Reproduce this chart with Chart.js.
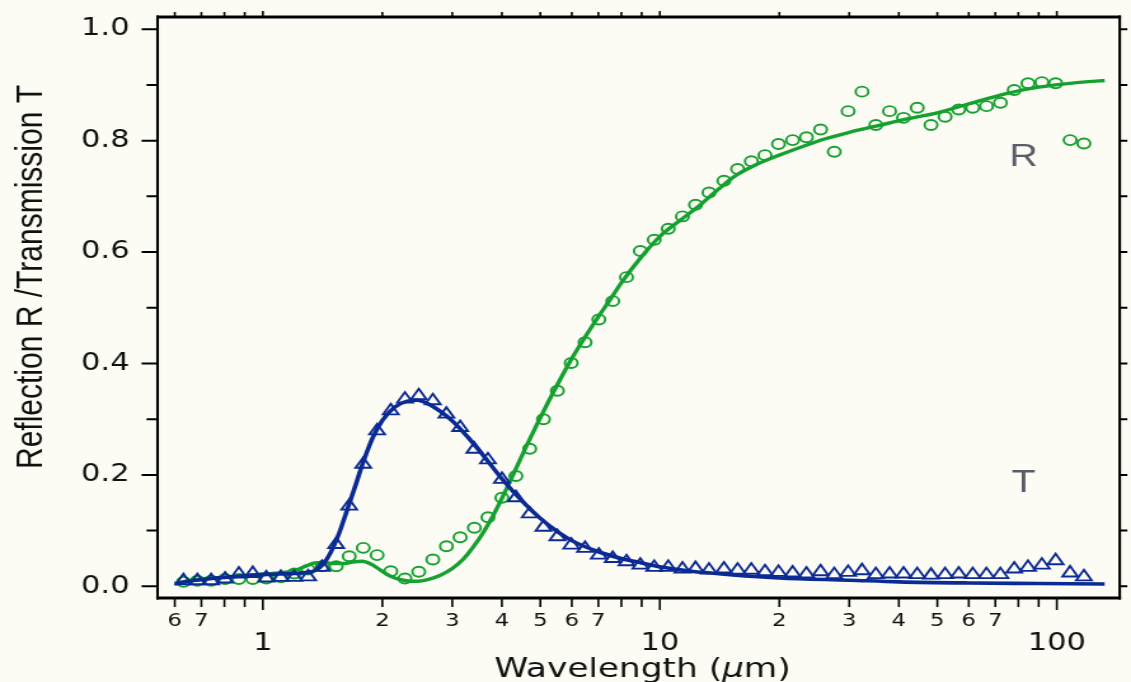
<!DOCTYPE html>
<html>
<head>
<meta charset="utf-8">
<script src="https://cdn.jsdelivr.net/npm/chart.js@4.4.1/dist/chart.umd.min.js"></script>
<style>
    html, body { margin: 0; padding: 0; background: #fcfcf4; overflow: hidden; }
    /* the plot is laid out narrow and widened on screen */
    #wrap { width: 890px; height: 682px; transform: scaleX(1.27079); transform-origin: 0 0; }
    canvas { display: block; }
</style>
</head>
<body>
<div id="wrap"><canvas id="chart" width="890" height="682"></canvas></div>
<script>
// measured points (wavelength in um)
const wavelength = [0.631, 0.684, 0.741, 0.803, 0.870, 0.943, 1.02, 1.11, 1.20, 1.30,
    1.41, 1.53, 1.65, 1.79, 1.94, 2.10, 2.28, 2.47, 2.68, 2.90,
    3.14, 3.41, 3.69, 4.00, 4.34, 4.70, 5.09, 5.52, 5.98, 6.48,
    7.02, 7.61, 8.24, 8.93, 9.68, 10.5, 11.4, 12.3, 13.3, 14.5,
    15.7, 17.0, 18.4, 19.9, 21.6, 23.4, 25.4, 27.5, 29.8, 32.3,
    35.0, 37.9, 41.1, 44.5, 48.2, 52.3, 56.6, 61.4, 66.5, 72.1,
    78.1, 84.6, 91.7, 99.3, 108, 117];
const reflection = [0.008, 0.010, 0.010, 0.013, 0.013, 0.013, 0.014, 0.016, 0.023, 0.030,
    0.036, 0.036, 0.054, 0.069, 0.056, 0.027, 0.014, 0.026, 0.048, 0.072,
    0.088, 0.105, 0.124, 0.159, 0.198, 0.247, 0.300, 0.351, 0.401, 0.438,
    0.479, 0.512, 0.555, 0.602, 0.622, 0.642, 0.664, 0.685, 0.707, 0.728,
    0.749, 0.763, 0.774, 0.794, 0.801, 0.806, 0.820, 0.780, 0.853, 0.888,
    0.828, 0.853, 0.841, 0.859, 0.828, 0.843, 0.856, 0.859, 0.862, 0.868,
    0.891, 0.903, 0.905, 0.903, 0.801, 0.795];
const transmission = [0.010, 0.010, 0.010, 0.013, 0.022, 0.023, 0.015, 0.016, 0.016, 0.017,
    0.034, 0.075, 0.144, 0.219, 0.279, 0.315, 0.336, 0.342, 0.333, 0.309,
    0.285, 0.246, 0.227, 0.192, 0.159, 0.130, 0.106, 0.089, 0.074, 0.068,
    0.056, 0.050, 0.044, 0.038, 0.034, 0.034, 0.031, 0.032, 0.029, 0.031,
    0.029, 0.029, 0.026, 0.025, 0.024, 0.022, 0.026, 0.021, 0.025, 0.028,
    0.021, 0.022, 0.022, 0.021, 0.020, 0.021, 0.022, 0.021, 0.021, 0.021,
    0.031, 0.034, 0.038, 0.046, 0.024, 0.017];

// model curves
const reflFitX = [0.6, 0.65, 0.7, 0.8, 0.9, 1.0, 1.1, 1.2, 1.28, 1.35, 1.42, 1.5, 1.6, 1.7, 1.78,
    1.87, 1.95, 2.05, 2.15, 2.3, 2.45, 2.6, 2.8, 3.0, 3.2, 3.4, 3.6, 3.8, 4.0, 4.3,
    4.6, 5.0, 5.5, 6.0, 6.5, 7.0, 7.5, 8.0, 9.0, 10, 11.3, 12.5, 14, 15.5, 17.5,
    20, 23, 26, 30, 35, 42, 50, 60, 75, 90, 105, 120, 132];
const reflFitY = [0.005, 0.010, 0.013, 0.016, 0.019, 0.022, 0.024, 0.028, 0.036, 0.042, 0.043, 0.041, 0.041, 0.044, 0.045,
    0.040, 0.032, 0.022, 0.015, 0.010, 0.009, 0.012, 0.020, 0.032, 0.049, 0.072, 0.098, 0.127, 0.158, 0.205,
    0.250, 0.303, 0.360, 0.409, 0.449, 0.484, 0.515, 0.545, 0.592, 0.628, 0.658, 0.682, 0.712, 0.737, 0.757,
    0.774, 0.790, 0.803, 0.815, 0.826, 0.839, 0.850, 0.866, 0.885, 0.896, 0.902, 0.906, 0.908];
const transFitX = [0.6, 0.65, 0.7, 0.8, 0.9, 1.0, 1.1, 1.2, 1.3, 1.36, 1.42, 1.48, 1.55, 1.62, 1.7,
    1.8, 1.9, 2.0, 2.15, 2.3, 2.45, 2.6, 2.8, 3.0, 3.3, 3.6, 4.0, 4.5, 5.0, 5.5,
    6.0, 7.0, 8.0, 9.0, 10, 12, 15, 20, 30, 40, 60, 90, 132];
const transFitY = [0.004, 0.009, 0.012, 0.016, 0.019, 0.021, 0.022, 0.023, 0.025, 0.029, 0.040, 0.060, 0.092, 0.131, 0.175,
    0.228, 0.270, 0.298, 0.322, 0.332, 0.334, 0.328, 0.314, 0.297, 0.266, 0.234, 0.193, 0.153, 0.122, 0.099,
    0.082, 0.062, 0.050, 0.042, 0.035, 0.027, 0.021, 0.015, 0.011, 0.008, 0.006, 0.005, 0.004];

// ticks
const xMajor = [1, 10, 100];
const xMinor = [0.6, 0.7, 0.8, 0.9, 2, 3, 4, 5, 6, 7, 8, 9, 20, 30, 40, 50, 60, 70, 80, 90];
const yMajor = [0, 0.2, 0.4, 0.6, 0.8, 1.0];
const yMinor = [0.1, 0.3, 0.5, 0.7, 0.9];

const curveLabels = [
    { text: 'R', at: 82.5, level: 0.755 },
    { text: 'T', at: 82.5, level: 0.170 }
];

const GREEN = '#15a02f';
const BLUE = '#0c2a94';

const pairs = (xs, ys) => xs.map((v, i) => ({ x: v, y: ys[i] }));

function xTickText(v) {
    if (xMajor.includes(v)) return ['', String(v)];
    const lead = Math.round(v / Math.pow(10, Math.floor(Math.log10(v) + 1e-9)));
    return lead <= 7 ? String(lead) : '';
}

// frame, tick marks, titles and curve tags
const axisDecor = {
    id: 'axisDecor',
    afterDraw(chart) {
        const { ctx, chartArea: a, scales: { x, y } } = chart;
        ctx.save();
        ctx.strokeStyle = '#000';

        ctx.lineWidth = 1.6;
        ctx.beginPath();
        xMajor.concat(xMinor).forEach(v => {
            const px = x.getPixelForValue(v);
            const big = xMajor.includes(v);
            ctx.moveTo(px, a.bottom); ctx.lineTo(px, a.bottom + (big ? 12 : 9));
            ctx.moveTo(px, a.top); ctx.lineTo(px, a.top - (big ? 6 : 5));
        });
        ctx.stroke();

        ctx.lineWidth = 2;
        ctx.beginPath();
        yMajor.concat(yMinor).forEach(v => {
            const py = y.getPixelForValue(v);
            const big = yMajor.includes(v);
            ctx.moveTo(a.left, py); ctx.lineTo(a.left - (big ? 12.6 : 8.7), py);
            ctx.moveTo(a.right, py); ctx.lineTo(a.right + 6, py);
        });
        ctx.stroke();

        ctx.lineWidth = 3;
        ctx.beginPath();
        ctx.moveTo(a.left - 1, a.top); ctx.lineTo(a.right + 1, a.top);
        ctx.moveTo(a.left - 1, a.bottom); ctx.lineTo(a.right + 1, a.bottom);
        ctx.stroke();
        ctx.lineWidth = 2.1;
        ctx.beginPath();
        ctx.moveTo(a.left, a.top - 1.5); ctx.lineTo(a.left, a.bottom + 1.5);
        ctx.moveTo(a.right, a.top - 1.5); ctx.lineTo(a.right, a.bottom + 1.5);
        ctx.stroke();

        // x title, with an italic mu
        ctx.fillStyle = '#111';
        ctx.textBaseline = 'alphabetic';
        ctx.textAlign = 'left';
        const parts = [
            ['Wavelength (', '27px "DejaVu Sans"'],
            ['\u03bc', 'italic 27px "DejaVu Sans"'],
            ['m)', '27px "DejaVu Sans"']
        ];
        let total = 0;
        parts.forEach(([t, f]) => { ctx.font = f; total += ctx.measureText(t).width; });
        let tx = (a.left + a.right) / 2 + 3 - total / 2;
        parts.forEach(([t, f]) => { ctx.font = f; ctx.fillText(t, tx, 677); tx += ctx.measureText(t).width; });

        // y title
        ctx.save();
        ctx.translate(33, 277);
        ctx.rotate(-Math.PI / 2);
        ctx.font = '30px "Liberation Sans"';
        ctx.textAlign = 'center';
        ctx.fillText('Reflection R /Transmission T', 0, 0);
        ctx.restore();

        ctx.font = '31px "Liberation Sans"';
        ctx.fillStyle = '#5c5c68';
        ctx.textAlign = 'center';
        curveLabels.forEach(l => ctx.fillText(l.text, x.getPixelForValue(l.at), y.getPixelForValue(l.level)));

        ctx.restore();
    }
};

new Chart(document.getElementById('chart'), {
    type: 'scatter',
    data: {
        datasets: [
            {
                label: 'T', data: pairs(wavelength, transmission), showLine: false,
                pointStyle: 'triangle', pointRadius: 7, pointBorderWidth: 1.9,
                borderColor: BLUE, backgroundColor: 'rgba(0,0,0,0)', order: 1
            },
            {
                label: 'T fit', data: pairs(transFitX, transFitY), showLine: true, pointRadius: 0,
                borderColor: BLUE, borderWidth: 3.6, cubicInterpolationMode: 'monotone', order: 2
            },
            {
                label: 'R', data: pairs(wavelength, reflection), showLine: false,
                pointStyle: 'circle', pointRadius: 5, pointBorderWidth: 1.9,
                borderColor: GREEN, backgroundColor: 'rgba(0,0,0,0)', order: 3
            },
            {
                label: 'R fit', data: pairs(reflFitX, reflFitY), showLine: true, pointRadius: 0,
                borderColor: GREEN, borderWidth: 3.4, cubicInterpolationMode: 'monotone', order: 4
            }
        ]
    },
    options: {
        responsive: false,
        devicePixelRatio: 1,
        animation: false,
        layout: { padding: { top: 17, right: 3, left: 0, bottom: 0 } },
        plugins: { legend: { display: false }, tooltip: { enabled: false } },
        scales: {
            x: {
                type: 'logarithmic',
                min: 0.543,
                max: 144,
                afterBuildTicks: s => { s.ticks = xMinor.concat(xMajor).sort((p, q) => p - q).map(v => ({ value: v })); },
                afterFit: s => { s.height = 84; s.paddingLeft = 0; s.paddingRight = 0; },
                grid: { display: false, drawTicks: false },
                border: { display: false },
                ticks: {
                    autoSkip: false, maxRotation: 0, minRotation: 0, padding: 13, color: '#111',
                    font: c => (c.tick && xMajor.includes(c.tick.value))
                        ? { family: 'DejaVu Sans', size: 24, lineHeight: '22px' }
                        : { family: 'DejaVu Sans', size: 18, lineHeight: 1.2 },
                    callback: v => xTickText(v)
                }
            },
            y: {
                min: -0.021,
                max: 1.022,
                afterBuildTicks: s => { s.ticks = yMajor.map(v => ({ value: v })); },
                afterFit: s => { s.width = 124; s.paddingTop = 0; s.paddingBottom = 0; },
                grid: { display: false, drawTicks: false },
                border: { display: false },
                ticks: {
                    padding: 22, color: '#111',
                    font: { family: 'DejaVu Sans', size: 24 },
                    callback: v => v.toFixed(1)
                }
            }
        }
    },
    plugins: [axisDecor]
});
</script>
</body>
</html>
